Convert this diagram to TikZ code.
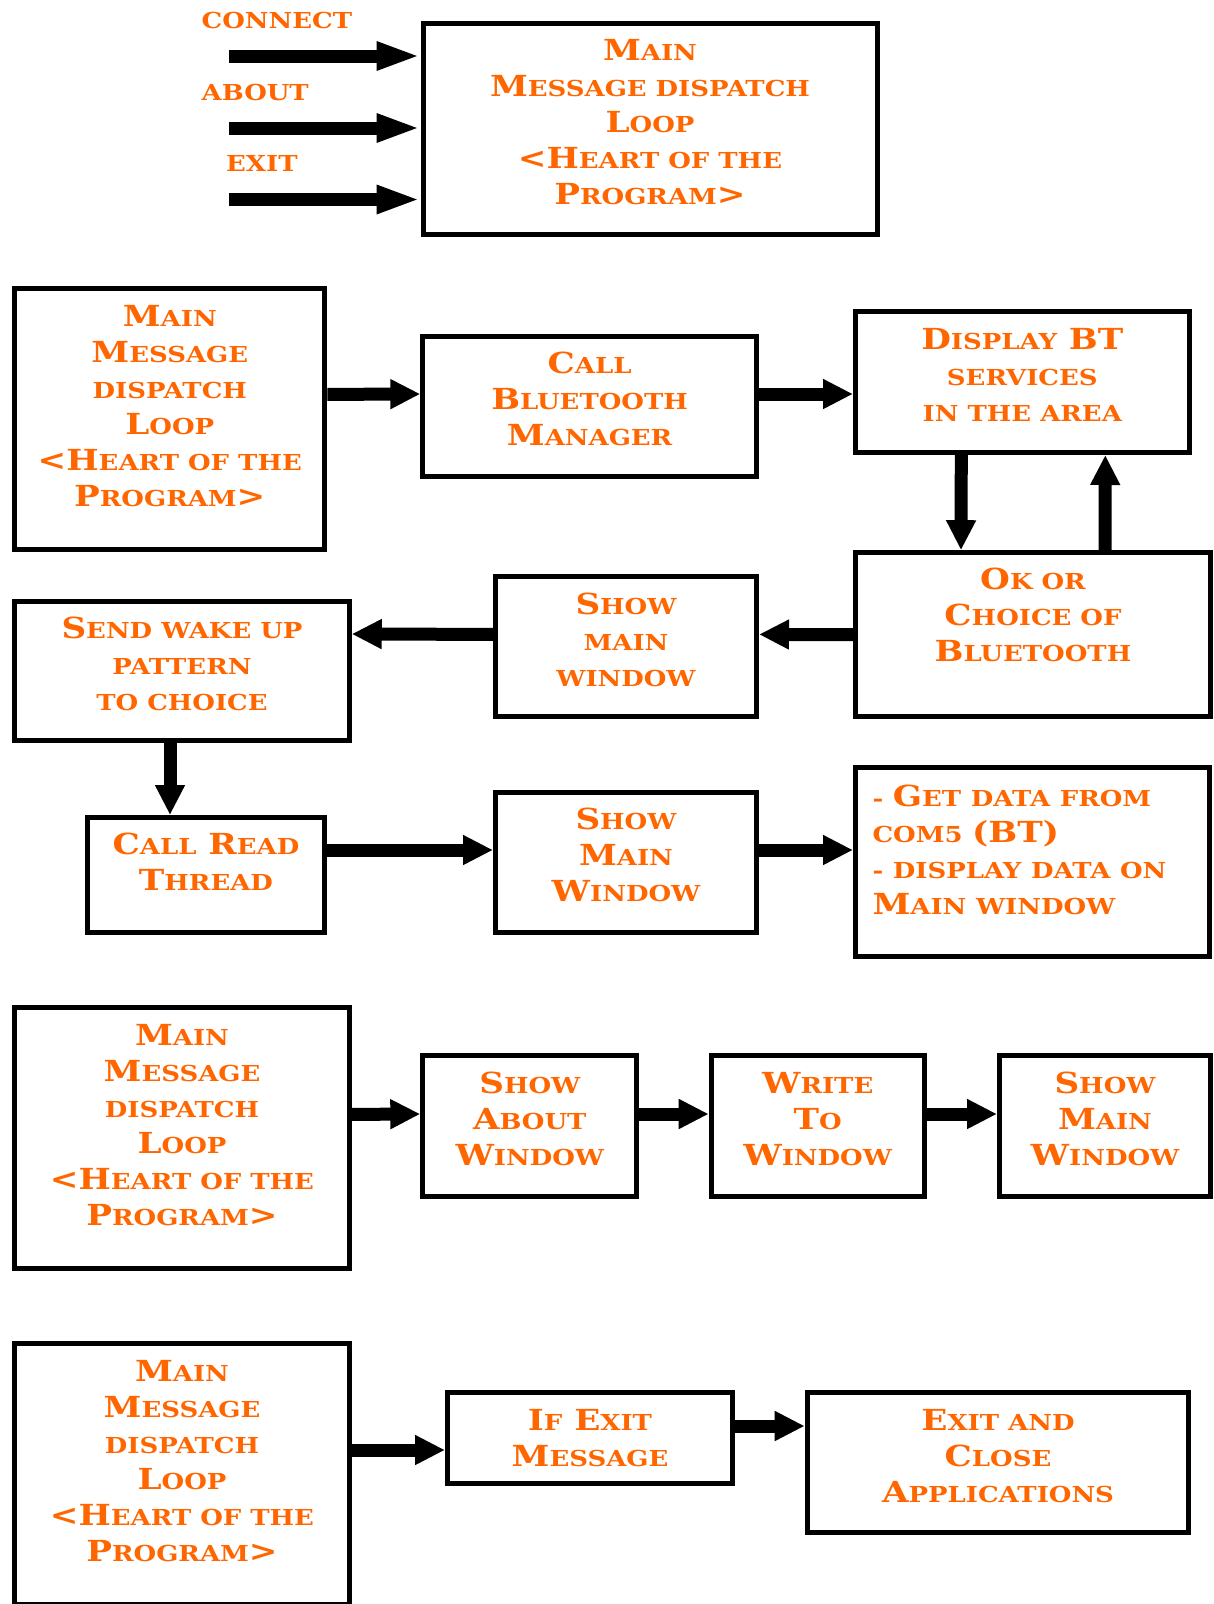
\documentclass[tikz,border=0pt]{standalone}
\usepackage{fontspec}
\usetikzlibrary{arrows.meta}
\newfontfamily\cgfont{DejaVu Serif}[FakeStretch=1.18]
\definecolor{cgorange}{RGB}{255,102,0}
\newcommand\sm[1]{{\fontsize{22}{36}\selectfont\MakeUppercase{#1}}}

\begin{document}
\begin{tikzpicture}[x=1pt,y=-1pt,
  box/.style={draw,line width=5pt,align=center,text=cgorange,
    font=\cgfont\bfseries\fontsize{29}{36}\selectfont,text depth=14pt,inner sep=0pt},
  arr/.style={line width=13pt,-{Triangle[length=30pt,width=28pt]}},
  arrin/.style={line width=13pt,-{Triangle[length=44pt,width=26pt]}},
  lbl/.style={anchor=west,text=cgorange,font=\cgfont\bfseries,inner sep=0pt}]
  \useasboundingbox (0,0) rectangle (1214,1604);

  \node[box,minimum width=454pt,minimum height=211pt] (main) at (650,129.4)
    {M\sm{ain}\\M\sm{essage dispatch}\\L\sm{oop}\\<H\sm{eart of the}\\P\sm{rogram}>};
  \node[lbl] (connect) at (201.5,20.5) {\sm{connect}};
  \node[lbl] (about) at (201.5,92) {\sm{about}};
  \node[lbl] (exit) at (226,163.6) {\sm{exit}};
  \coordinate (cin) at (229,56);
  \coordinate (ain) at (229,128);
  \coordinate (ein) at (229,199.5);
  \draw[arrin] (cin) -- (cin -| main.west);
  \draw[arrin] (ain) -- (ain -| main.west);
  \draw[arrin] (ein) -- (ein -| main.west);

  \node[box,minimum width=310pt,minimum height=261pt,text depth=27pt] (loop) at (169.8,419.4)
    {M\sm{ain}\\M\sm{essage}\\\sm{dispatch}\\L\sm{oop}\\<H\sm{eart of the}\\P\sm{rogram}>};
  \node[box,minimum width=333.5pt,minimum height=140pt] (callbt) at (589.6,406)
    {C\sm{all}\\B\sm{luetooth}\\M\sm{anager}};
  \node[box,minimum width=333.6pt,minimum height=141pt] (display) at (1022.3,382)
    {D\sm{isplay} BT\\\sm{services}\\\sm{in the area}};
  \node[box,minimum width=355pt,minimum height=164pt,text depth=40pt] (choice) at (1033,634.7)
    {O\sm{k or}\\C\sm{hoice of}\\B\sm{luetooth}};
  \node[box,minimum width=261pt,minimum height=140pt] (showmain) at (626,646.4)
    {S\sm{how}\\\sm{main}\\\sm{window}};
  \node[box,minimum width=334.5pt,minimum height=139pt] (wakeup) at (182,670.5)
    {S\sm{end wake up}\\\sm{pattern}\\\sm{to choice}};
  \node[box,minimum width=237pt,minimum height=115pt,text depth=27pt] (readthr) at (206,875)
    {C\sm{all} R\sm{ead}\\T\sm{hread}};
  \node[box,minimum width=261pt,minimum height=140pt] (mainwin) at (626,862)
    {S\sm{how}\\M\sm{ain}\\W\sm{indow}};
  \node[box,minimum width=354pt,minimum height=189pt,text depth=133pt,align=left,text width=320pt] (getdata) at (1032.5,862)
    {\sm{- }G\sm{et data from}\\\sm{com5} (BT)\\\sm{- display data on}\\M\sm{ain window}};

  \draw[arr] ([yshift=25pt]loop.east) -- ([yshift=12pt]callbt.west);
  \draw[arr] ([yshift=12pt]callbt.east) -- ([yshift=-12pt]display.west);
  \draw[arr] ([xshift=-61pt]display.south) -- ([xshift=-72pt]choice.north);
  \draw[arr] ([xshift=72pt]choice.north) -- ([xshift=83pt]display.south);
  \draw[arr] (choice.west) -- ([yshift=12pt]showmain.east);
  \draw[arr] ([yshift=12pt]showmain.west) -- ([yshift=36.5pt]wakeup.east);
  \draw[arr] ([xshift=-12pt]wakeup.south) -- ([xshift=-36pt]readthr.north);
  \draw[arr] ([yshift=25pt]readthr.east) -- ([yshift=12pt]mainwin.west);
  \draw[arr] ([yshift=12pt]mainwin.east) -- ([yshift=12pt]getdata.west);

  \node[box,minimum width=334.5pt,minimum height=261pt,text depth=27pt] (loop2) at (182,1138.4)
    {M\sm{ain}\\M\sm{essage}\\\sm{dispatch}\\L\sm{oop}\\<H\sm{eart of the}\\P\sm{rogram}>};
  \node[box,minimum width=214pt,minimum height=141pt] (aboutwin) at (529.8,1125.6)
    {S\sm{how}\\A\sm{bout}\\W\sm{indow}};
  \node[box,minimum width=213pt,minimum height=141pt] (writewin) at (817.7,1125.6)
    {W\sm{rite}\\T\sm{o}\\W\sm{indow}};
  \node[box,minimum width=211pt,minimum height=141pt] (mainwin2) at (1105,1125.6)
    {S\sm{how}\\M\sm{ain}\\W\sm{indow}};
  \draw[arr] ([yshift=24pt]loop2.east) -- ([yshift=11.6pt]aboutwin.west);
  \draw[arr] ([yshift=11.6pt]aboutwin.east) -- ([yshift=11.6pt]writewin.west);
  \draw[arr] ([yshift=11.6pt]writewin.east) -- ([yshift=11.6pt]mainwin2.west);

  \node[box,minimum width=334.5pt,minimum height=261pt,text depth=27pt] (loop3) at (182,1474)
    {M\sm{ain}\\M\sm{essage}\\\sm{dispatch}\\L\sm{oop}\\<H\sm{eart of the}\\P\sm{rogram}>};
  \node[box,minimum width=285pt,minimum height=91pt,text depth=0pt] (ifexit) at (590,1438)
    {I\sm{f} E\sm{xit}\\M\sm{essage}};
  \node[box,minimum width=381.6pt,minimum height=140pt] (close) at (998,1462.6)
    {E\sm{xit and}\\C\sm{lose}\\A\sm{pplications}};
  \draw[arr] ([yshift=24pt]loop3.east) -- ([yshift=-12pt]ifexit.west);
  \draw[arr] ([yshift=12pt]ifexit.east) -- ([yshift=36.6pt]close.west);
\end{tikzpicture}
\end{document}
